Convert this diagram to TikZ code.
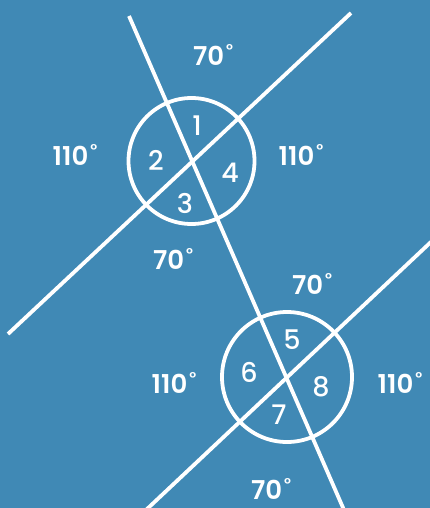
\documentclass[tikz,border=0pt]{standalone}
\usepackage{fontspec}
\setmainfont{Poppins}
\newfontfamily\medfont{Poppins SemiBold}
\newfontfamily\regfont{Poppins Medium}
\definecolor{bg}{RGB}{64,137,181}
\begin{document}
\begin{tikzpicture}[x=1pt,y=-1pt,
  geo/.style={draw=white,line width=3.8pt},
  num/.style={text=white,font=\regfont\fontsize{27}{27}\selectfont,inner sep=0pt},
  ang/.style={text=white,font=\medfont\fontsize{26}{26}\selectfont,inner sep=0pt}]
\fill[bg] (0,0) rectangle (430,508);
\useasboundingbox (0,0) rectangle (430,508);
\newcommand{\dg}{\hspace{2pt}\raisebox{0.42em}{\scalebox{0.6}{°}}}
% lines
\coordinate (tA) at (129,16);
\coordinate (tB) at (344,510);
\coordinate (pA1) at (8,334);
\coordinate (pB1) at (351,13);
\coordinate (pA2) at (146,510);
\coordinate (pB2) at (432,241);
\coordinate (c1) at (191.5,161);
\coordinate (c2) at (287,377);
\draw[geo] (tA) -- (tB);
\draw[geo] (pA1) -- (pB1);
\draw[geo] (pA2) -- (pB2);
\draw[geo] (c1) circle[radius=63];
\draw[geo] (c2) circle[radius=65];
% numbers
\node[num] (n1) at (197,126) {1};
\node[num] (n2) at (156,160) {2};
\node[num] (n3) at (185,203) {3};
\node[num] (n4) at (230,173) {4};
\node[num] (n5) at (292,340) {5};
\node[num] (n6) at (249,372) {6};
\node[num] (n7) at (279,415) {7};
\node[num] (n8) at (321,387) {8};
% angles
\node[ang] (a1) at (213,55) {70\dg};
\node[ang] (a2) at (75,155) {110\dg};
\node[ang] (a3) at (301,155) {110\dg};
\node[ang] (a4) at (173,259) {70\dg};
\node[ang] (a5) at (312,284) {70\dg};
\node[ang] (a6) at (174,383) {110\dg};
\node[ang] (a7) at (400,383) {110\dg};
\node[ang] (a8) at (271,489) {70\dg};
\end{tikzpicture}
\end{document}
